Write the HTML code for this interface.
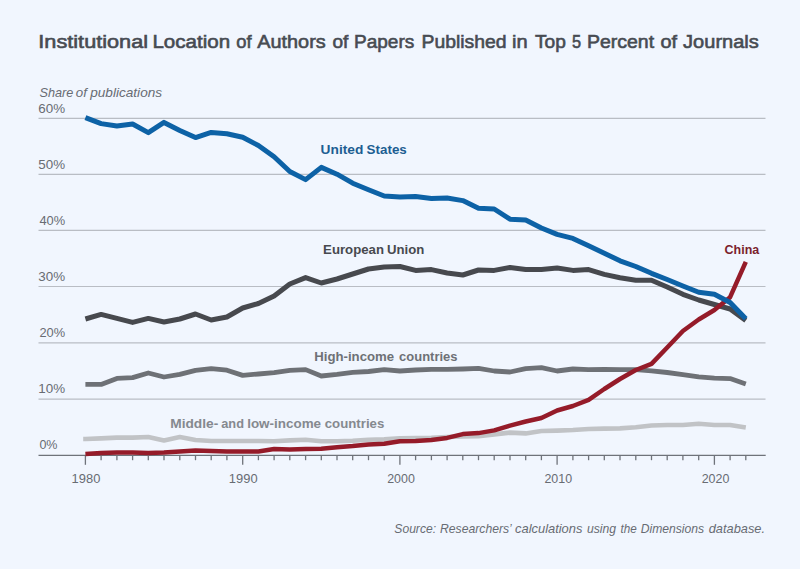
<!DOCTYPE html>
<html><head><meta charset="utf-8">
<style>
html,body{margin:0;padding:0;background:#f1f6fe;}
body{width:800px;height:569px;overflow:hidden;}
svg{display:block;font-family:"Liberation Sans",sans-serif;}
</style></head><body>
<svg width="800" height="569" viewBox="0 0 800 569">
<rect width="800" height="569" fill="#f1f6fe"/>
<line x1="38.5" y1="399.2" x2="765.5" y2="399.2" stroke="#b9bdc4" stroke-width="1.2"/>
<line x1="38.5" y1="342.9" x2="765.5" y2="342.9" stroke="#b9bdc4" stroke-width="1.2"/>
<line x1="38.5" y1="286.5" x2="765.5" y2="286.5" stroke="#b9bdc4" stroke-width="1.2"/>
<line x1="38.5" y1="230.4" x2="765.5" y2="230.4" stroke="#b9bdc4" stroke-width="1.2"/>
<line x1="38.5" y1="174.4" x2="765.5" y2="174.4" stroke="#b9bdc4" stroke-width="1.2"/>
<line x1="38.5" y1="118.3" x2="765.5" y2="118.3" stroke="#b9bdc4" stroke-width="1.2"/>

<line x1="38.5" y1="455.4" x2="765.7" y2="455.4" stroke="#6f737a" stroke-width="1.4"/>
<line x1="85.4" y1="455" x2="85.4" y2="464.8" stroke="#6f737a" stroke-width="1.3"/>
<line x1="101.1" y1="455" x2="101.1" y2="460.2" stroke="#6f737a" stroke-width="1.3"/>
<line x1="116.9" y1="455" x2="116.9" y2="460.2" stroke="#6f737a" stroke-width="1.3"/>
<line x1="132.6" y1="455" x2="132.6" y2="460.2" stroke="#6f737a" stroke-width="1.3"/>
<line x1="148.3" y1="455" x2="148.3" y2="460.2" stroke="#6f737a" stroke-width="1.3"/>
<line x1="164.0" y1="455" x2="164.0" y2="460.2" stroke="#6f737a" stroke-width="1.3"/>
<line x1="179.8" y1="455" x2="179.8" y2="460.2" stroke="#6f737a" stroke-width="1.3"/>
<line x1="195.5" y1="455" x2="195.5" y2="460.2" stroke="#6f737a" stroke-width="1.3"/>
<line x1="211.2" y1="455" x2="211.2" y2="460.2" stroke="#6f737a" stroke-width="1.3"/>
<line x1="226.9" y1="455" x2="226.9" y2="460.2" stroke="#6f737a" stroke-width="1.3"/>
<line x1="242.7" y1="455" x2="242.7" y2="464.8" stroke="#6f737a" stroke-width="1.3"/>
<line x1="258.4" y1="455" x2="258.4" y2="460.2" stroke="#6f737a" stroke-width="1.3"/>
<line x1="274.1" y1="455" x2="274.1" y2="460.2" stroke="#6f737a" stroke-width="1.3"/>
<line x1="289.8" y1="455" x2="289.8" y2="460.2" stroke="#6f737a" stroke-width="1.3"/>
<line x1="305.6" y1="455" x2="305.6" y2="460.2" stroke="#6f737a" stroke-width="1.3"/>
<line x1="321.3" y1="455" x2="321.3" y2="460.2" stroke="#6f737a" stroke-width="1.3"/>
<line x1="337.0" y1="455" x2="337.0" y2="460.2" stroke="#6f737a" stroke-width="1.3"/>
<line x1="352.7" y1="455" x2="352.7" y2="460.2" stroke="#6f737a" stroke-width="1.3"/>
<line x1="368.5" y1="455" x2="368.5" y2="460.2" stroke="#6f737a" stroke-width="1.3"/>
<line x1="384.2" y1="455" x2="384.2" y2="460.2" stroke="#6f737a" stroke-width="1.3"/>
<line x1="399.9" y1="455" x2="399.9" y2="464.8" stroke="#6f737a" stroke-width="1.3"/>
<line x1="415.6" y1="455" x2="415.6" y2="460.2" stroke="#6f737a" stroke-width="1.3"/>
<line x1="431.4" y1="455" x2="431.4" y2="460.2" stroke="#6f737a" stroke-width="1.3"/>
<line x1="447.1" y1="455" x2="447.1" y2="460.2" stroke="#6f737a" stroke-width="1.3"/>
<line x1="462.8" y1="455" x2="462.8" y2="460.2" stroke="#6f737a" stroke-width="1.3"/>
<line x1="478.5" y1="455" x2="478.5" y2="460.2" stroke="#6f737a" stroke-width="1.3"/>
<line x1="494.2" y1="455" x2="494.2" y2="460.2" stroke="#6f737a" stroke-width="1.3"/>
<line x1="510.0" y1="455" x2="510.0" y2="460.2" stroke="#6f737a" stroke-width="1.3"/>
<line x1="525.7" y1="455" x2="525.7" y2="460.2" stroke="#6f737a" stroke-width="1.3"/>
<line x1="541.4" y1="455" x2="541.4" y2="460.2" stroke="#6f737a" stroke-width="1.3"/>
<line x1="557.1" y1="455" x2="557.1" y2="464.8" stroke="#6f737a" stroke-width="1.3"/>
<line x1="572.9" y1="455" x2="572.9" y2="460.2" stroke="#6f737a" stroke-width="1.3"/>
<line x1="588.6" y1="455" x2="588.6" y2="460.2" stroke="#6f737a" stroke-width="1.3"/>
<line x1="604.3" y1="455" x2="604.3" y2="460.2" stroke="#6f737a" stroke-width="1.3"/>
<line x1="620.0" y1="455" x2="620.0" y2="460.2" stroke="#6f737a" stroke-width="1.3"/>
<line x1="635.8" y1="455" x2="635.8" y2="460.2" stroke="#6f737a" stroke-width="1.3"/>
<line x1="651.5" y1="455" x2="651.5" y2="460.2" stroke="#6f737a" stroke-width="1.3"/>
<line x1="667.2" y1="455" x2="667.2" y2="460.2" stroke="#6f737a" stroke-width="1.3"/>
<line x1="682.9" y1="455" x2="682.9" y2="460.2" stroke="#6f737a" stroke-width="1.3"/>
<line x1="698.7" y1="455" x2="698.7" y2="460.2" stroke="#6f737a" stroke-width="1.3"/>
<line x1="714.4" y1="455" x2="714.4" y2="464.8" stroke="#6f737a" stroke-width="1.3"/>
<line x1="730.1" y1="455" x2="730.1" y2="460.2" stroke="#6f737a" stroke-width="1.3"/>
<line x1="745.8" y1="455" x2="745.8" y2="460.2" stroke="#6f737a" stroke-width="1.3"/>

<g fill="none" stroke-width="5" stroke-linejoin="round" stroke-linecap="butt">
<polyline points="83.2,439 85.4,439.0 101.1,438.4 116.9,437.6 132.6,437.6 148.3,437.0 164.0,440.4 179.8,437.0 195.5,440.0 211.2,441.0 226.9,441.0 242.7,441.0 258.4,441.0 274.1,441.2 289.8,440.4 305.6,439.8 321.3,441.2 337.0,441.2 352.7,440.8 368.5,439.8 384.2,439.4 399.9,438.4 415.6,438.1 431.4,437.8 447.1,437.0 462.8,436.5 478.5,436.2 494.2,434.4 510.0,432.6 525.7,433.4 541.4,431.0 557.1,430.6 572.9,430.0 588.6,429.0 604.3,428.6 620.0,428.4 635.8,427.3 651.5,425.5 667.2,425.0 682.9,425.0 698.7,423.8 714.4,425.0 730.1,425.0 745.8,427.5" stroke="#c1c3c6" stroke-width="4.6"/>
<polyline points="85.4,384.4 101.1,384.4 116.9,378.4 132.6,377.6 148.3,373.0 164.0,377.0 179.8,374.4 195.5,370.4 211.2,368.6 226.9,370.2 242.7,375.4 258.4,374.0 274.1,372.6 289.8,370.4 305.6,369.6 321.3,376.0 337.0,374.4 352.7,372.4 368.5,371.5 384.2,369.6 399.9,371.0 415.6,370.0 431.4,369.4 447.1,369.4 462.8,369.0 478.5,368.4 494.2,371.0 510.0,372.0 525.7,368.6 541.4,367.6 557.1,371.0 572.9,369.0 588.6,369.6 604.3,369.4 620.0,369.6 635.8,369.7 651.5,370.8 667.2,372.5 682.9,374.6 698.7,376.9 714.4,378.1 730.1,378.6 745.8,383.9" stroke="#6e7176" stroke-width="4.8"/>
<polyline points="85.4,319.0 101.1,314.4 116.9,318.4 132.6,322.4 148.3,318.4 164.0,322.0 179.8,319.0 195.5,314.0 211.2,320.0 226.9,317.0 242.7,308.0 258.4,303.5 274.1,296.0 289.8,284.0 305.6,277.6 321.3,283.0 337.0,279.0 352.7,274.0 368.5,269.0 384.2,267.0 399.9,266.5 415.6,270.4 431.4,269.6 447.1,273.0 462.8,275.0 478.5,270.0 494.2,270.4 510.0,267.5 525.7,269.6 541.4,269.4 557.1,268.0 572.9,270.4 588.6,269.6 604.3,274.4 620.0,277.8 635.8,280.3 651.5,280.3 667.2,287.0 682.9,294.3 698.7,300.0 714.4,304.5 730.1,309.0 745.8,320.5" stroke="#47494e"/>
<polyline points="85.4,454.0 101.1,453.0 116.9,452.6 132.6,452.4 148.3,453.0 164.0,452.6 179.8,451.4 195.5,450.6 211.2,451.0 226.9,451.5 242.7,451.5 258.4,451.4 274.1,449.1 289.8,449.5 305.6,449.0 321.3,448.8 337.0,447.2 352.7,446.0 368.5,444.4 384.2,443.8 399.9,441.3 415.6,441.1 431.4,439.9 447.1,437.9 462.8,434.1 478.5,433.1 494.2,430.4 510.0,425.6 525.7,421.5 541.4,418.0 557.1,410.5 572.9,406.0 588.6,399.8 604.3,389.0 620.0,379.0 635.8,370.0 651.5,363.9 667.2,347.5 682.9,331.0 698.7,319.5 714.4,310.0 730.1,297.2 745.8,261.9" stroke="#951b29" stroke-width="4.5"/>
<polyline points="85.4,117.6 101.1,123.6 116.9,126.0 132.6,124.0 148.3,132.6 164.0,122.4 179.8,130.4 195.5,137.6 211.2,132.4 226.9,133.8 242.7,137.3 258.4,145.5 274.1,156.8 289.8,171.5 305.6,179.6 321.3,167.4 337.0,174.2 352.7,183.2 368.5,189.8 384.2,196.0 399.9,197.0 415.6,196.6 431.4,198.4 447.1,198.0 462.8,200.6 478.5,208.3 494.2,209.0 510.0,219.2 525.7,220.0 541.4,228.0 557.1,234.4 572.9,238.4 588.6,245.8 604.3,253.2 620.0,260.8 635.8,266.5 651.5,273.3 667.2,279.5 682.9,286.0 698.7,292.3 714.4,294.2 730.1,302.5 745.8,318.8" stroke="#0d62a6"/>
</g>
<g font-size="18.8px" fill="#474b52" stroke="#474b52" stroke-width="0.6"><text x="38.35" y="47.6" textLength="109.73" lengthAdjust="spacingAndGlyphs">Institutional</text><text x="152.41" y="47.6" textLength="77.71" lengthAdjust="spacingAndGlyphs">Location</text><text x="236.25" y="47.6" textLength="15.33" lengthAdjust="spacingAndGlyphs">of</text><text x="257.25" y="47.6" textLength="68.47" lengthAdjust="spacingAndGlyphs">Authors</text><text x="332.5" y="47.6" textLength="15.92" lengthAdjust="spacingAndGlyphs">of</text><text x="353.99" y="47.6" textLength="60.29" lengthAdjust="spacingAndGlyphs">Papers</text><text x="421.47" y="47.6" textLength="85.05" lengthAdjust="spacingAndGlyphs">Published</text><text x="511.93" y="47.6" textLength="15.64" lengthAdjust="spacingAndGlyphs">in</text><text x="535.0" y="47.6" textLength="30.89" lengthAdjust="spacingAndGlyphs">Top</text><text x="571.9" y="47.6" textLength="9.09" lengthAdjust="spacingAndGlyphs">5</text><text x="586.96" y="47.6" textLength="67.16" lengthAdjust="spacingAndGlyphs">Percent</text><text x="660.6" y="47.6" textLength="16.55" lengthAdjust="spacingAndGlyphs">of</text><text x="683.1" y="47.6" textLength="75.7" lengthAdjust="spacingAndGlyphs">Journals</text></g>
<g font-size="12.6px" font-style="italic" fill="#686c73"><text x="39.5" y="96.7" textLength="33.86" lengthAdjust="spacingAndGlyphs">Share</text><text x="75.8" y="96.7" textLength="11.13" lengthAdjust="spacingAndGlyphs">of</text><text x="90.25" y="96.7" textLength="71.81" lengthAdjust="spacingAndGlyphs">publications</text></g>
<g font-size="13px" font-style="italic" fill="#686c73"><text x="394.32" y="533.4" textLength="41.76" lengthAdjust="spacingAndGlyphs">Source:</text><text x="440.0" y="533.4" textLength="71.82" lengthAdjust="spacingAndGlyphs">Researchers’</text><text x="515.0" y="533.4" textLength="67.44" lengthAdjust="spacingAndGlyphs">calculations</text><text x="586.9" y="533.4" textLength="29.07" lengthAdjust="spacingAndGlyphs">using</text><text x="620.6" y="533.4" textLength="16.27" lengthAdjust="spacingAndGlyphs">the</text><text x="640.7" y="533.4" textLength="63.43" lengthAdjust="spacingAndGlyphs">Dimensions</text><text x="708.75" y="533.4" textLength="56.24" lengthAdjust="spacingAndGlyphs">database.</text></g>
<g font-size="12.5px" font-weight="bold" fill="#1d5e92"><text x="320.6" y="153.7" textLength="42.67" lengthAdjust="spacingAndGlyphs">United</text><text x="366.63" y="153.7" textLength="40.14" lengthAdjust="spacingAndGlyphs">States</text></g>
<g font-size="12.5px" font-weight="bold" fill="#47494e"><text x="323.14" y="254.3" textLength="60.85" lengthAdjust="spacingAndGlyphs">European</text><text x="387.05" y="254.3" textLength="37.3" lengthAdjust="spacingAndGlyphs">Union</text></g>
<g font-size="12.5px" font-weight="bold" fill="#6e7176"><text x="314.19" y="361" textLength="79.95" lengthAdjust="spacingAndGlyphs">High-income</text><text x="399.1" y="361" textLength="58.38" lengthAdjust="spacingAndGlyphs">countries</text></g>
<g font-size="12.5px" font-weight="bold" fill="#85898f"><text x="170.2" y="427.7" textLength="48.12" lengthAdjust="spacingAndGlyphs">Middle-</text><text x="221.25" y="427.7" textLength="22.74" lengthAdjust="spacingAndGlyphs">and</text><text x="247.18" y="427.7" textLength="73.9" lengthAdjust="spacingAndGlyphs">low-income</text><text x="324.75" y="427.7" textLength="59.53" lengthAdjust="spacingAndGlyphs">countries</text></g>
<g font-size="12.5px" font-weight="bold" fill="#7b1f2d"><text x="724.6" y="253.5" textLength="34.64" lengthAdjust="spacingAndGlyphs">China</text></g>
<g font-size="12.9px" fill="#686c73"><text x="39.4" y="448.9" textLength="18.12" lengthAdjust="spacingAndGlyphs">0%</text></g>
<g font-size="12.9px" fill="#686c73"><text x="38.36" y="392.9" textLength="26.78" lengthAdjust="spacingAndGlyphs">10%</text></g>
<g font-size="12.9px" fill="#686c73"><text x="39.4" y="336.9" textLength="25.71" lengthAdjust="spacingAndGlyphs">20%</text></g>
<g font-size="12.9px" fill="#686c73"><text x="38.36" y="280.9" textLength="26.78" lengthAdjust="spacingAndGlyphs">30%</text></g>
<g font-size="12.9px" fill="#686c73"><text x="39.4" y="224.89999999999998" textLength="25.71" lengthAdjust="spacingAndGlyphs">40%</text></g>
<g font-size="12.9px" fill="#686c73"><text x="38.36" y="168.89999999999998" textLength="26.78" lengthAdjust="spacingAndGlyphs">50%</text></g>
<g font-size="12.9px" fill="#686c73"><text x="38.36" y="112.89999999999998" textLength="26.78" lengthAdjust="spacingAndGlyphs">60%</text></g>
<g font-size="12.8px" fill="#686c73"><text x="71.64" y="482.8" textLength="28.68" lengthAdjust="spacingAndGlyphs">1980</text></g>
<g font-size="12.8px" fill="#686c73"><text x="228.89" y="482.8" textLength="28.68" lengthAdjust="spacingAndGlyphs">1990</text></g>
<g font-size="12.8px" fill="#686c73"><text x="387.15" y="482.8" textLength="27.66" lengthAdjust="spacingAndGlyphs">2000</text></g>
<g font-size="12.8px" fill="#686c73"><text x="544.4" y="482.8" textLength="27.66" lengthAdjust="spacingAndGlyphs">2010</text></g>
<g font-size="12.8px" fill="#686c73"><text x="701.65" y="482.8" textLength="27.66" lengthAdjust="spacingAndGlyphs">2020</text></g>

</svg>
</body></html>
